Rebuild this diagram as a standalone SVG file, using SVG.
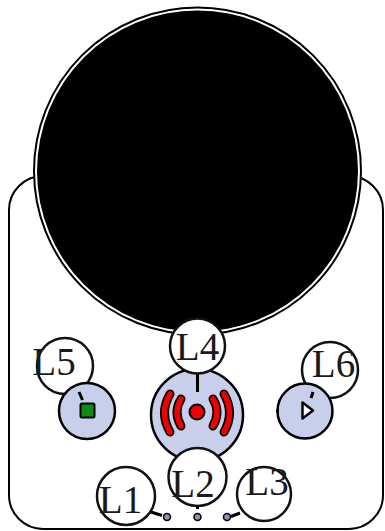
<svg xmlns="http://www.w3.org/2000/svg" width="385" height="531" viewBox="0 0 385 531">
  <style>
    .body { fill: #ffffff; stroke: #000; stroke-width: 2; }
    .btn { fill: #c8cfea; stroke: #000; stroke-width: 2.5; }
    .tag { fill: #ffffff; stroke: #111; stroke-width: 2.5; }
    .tag text { font-family: "Liberation Serif", "Times New Roman", serif; font-size: 39px; fill: #1a1a1a; stroke: none; text-anchor: middle; }
    .lead { stroke: #000; stroke-width: 3; fill: none; }
    .led { fill: #8a93b8; stroke: #000; stroke-width: 1.5; }
  </style>

  <!-- housing -->
  <g id="housing">
    <rect class="body" x="9" y="176" width="374" height="353" rx="34" ry="34"/>
  </g>

  <!-- speaker grille -->
  <g id="speaker">
    <circle cx="197.5" cy="171" r="163.5" fill="#fff" stroke="#000" stroke-width="2"/>
    <circle cx="197.5" cy="171" r="160.5" fill="#000"/>
  </g>

  <!-- side labels sit beneath their buttons -->
  <g id="L5" class="tag">
    <circle cx="65" cy="366" r="28"/>
    <text x="54" y="375">L5</text>
  </g>
  <g id="L6" class="tag">
    <circle cx="330" cy="370" r="28"/>
    <text x="333.5" y="377">L6</text>
  </g>

  <!-- stop button -->
  <g id="stop">
    <circle class="btn" cx="87" cy="411" r="28"/>
    <rect x="80.5" y="403.5" width="14" height="14" rx="1.5" fill="#108a10" stroke="#000" stroke-width="2"/>
  </g>

  <!-- record / broadcast button -->
  <g id="record">
    <circle class="btn" cx="197" cy="415" r="46"/>
    <g fill="none" stroke-linecap="round">
      <g stroke="#000" stroke-width="9">
        <path d="M181,399 Q173,412 181,426"/>
        <path d="M213,399 Q221,412 213,426"/>
        <path d="M170,394 Q159,413 170,432"/>
        <path d="M224,394 Q235,413 224,432"/>
      </g>
      <g stroke="#f00000" stroke-width="5.5">
        <path d="M181,399 Q173,412 181,426"/>
        <path d="M213,399 Q221,412 213,426"/>
        <path d="M170,394 Q159,413 170,432"/>
        <path d="M224,394 Q235,413 224,432"/>
      </g>
    </g>
    <circle cx="197" cy="412" r="7.5" fill="#f00000" stroke="#000" stroke-width="2"/>
  </g>

  <!-- play button -->
  <g id="play">
    <circle class="btn" cx="305" cy="411" r="27.5"/>
    <path d="M302.5,402.5 L313,410.5 L302.5,418.5 Z" fill="#fff" stroke="#000" stroke-width="2.5" stroke-linejoin="round"/>
  </g>

  <!-- status lights -->
  <g id="lights">
    <circle class="led" cx="167" cy="517" r="3.5"/>
    <circle class="led" cx="197.5" cy="517" r="3.5"/>
    <circle class="led" cx="227" cy="517" r="3.5"/>
  </g>

  <!-- labels above everything else -->
  <g id="L4" class="tag">
    <circle cx="197.5" cy="346" r="27.5"/>
    <text x="197.5" y="360">L4</text>
  </g>
  <g id="L2" class="tag">
    <circle cx="197.5" cy="477" r="29"/>
    <text x="193" y="497">L2</text>
  </g>
  <g id="L1" class="tag">
    <circle cx="126" cy="496" r="29"/>
    <text x="120.5" y="513">L1</text>
  </g>
  <g id="L3" class="tag">
    <circle cx="264" cy="494" r="27"/>
    <text x="267" y="495">L3</text>
  </g>

  <!-- leader lines -->
  <g id="connectors" class="lead">
    <line x1="79" y1="392" x2="82.5" y2="400"/>
    <line x1="197.5" y1="373" x2="197.5" y2="392"/>
    <line x1="313" y1="392" x2="311" y2="398"/>
    <line x1="276" y1="411" x2="279" y2="411"/>
    <line x1="197.5" y1="505" x2="197.5" y2="509"/>
    <line x1="151" y1="512" x2="162" y2="515.5"/>
    <line x1="231" y1="516.5" x2="240" y2="513"/>
  </g>
</svg>
